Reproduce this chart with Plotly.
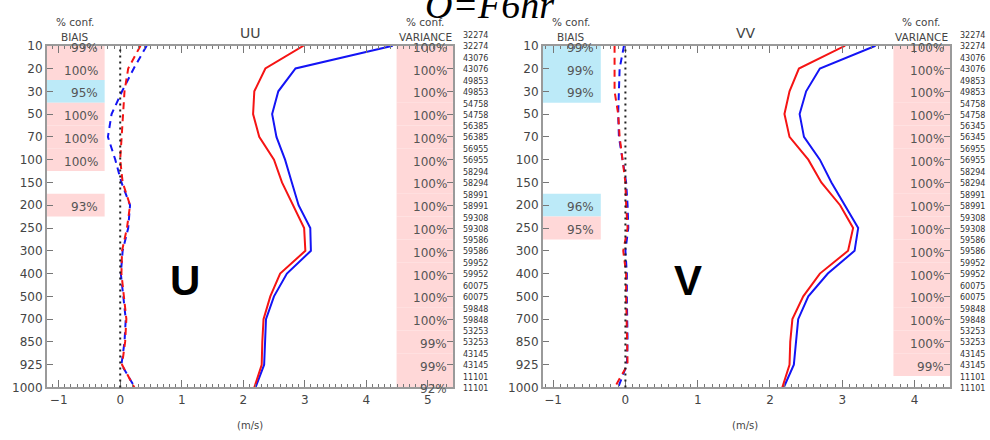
import plotly.graph_objects as go

# ---------------- data ----------------
levels = [10, 20, 30, 50, 70, 100, 150, 200, 250, 300, 400, 500, 700, 850, 925, 1000]
counts_u = [32274, 43076, 49853, 54758, 56385, 56955, 58294, 58991, 59308, 59586,
            59952, 60075, 59848, 53253, 43145, 11101]
counts_v = [32274, 43076, 49853, 54758, 56345, 56955, 58294, 58991, 59308, 59586,
            59952, 60075, 59848, 53253, 43145, 11101]

u_std_red = [2.98, 2.36, 2.18, 2.16, 2.26, 2.50, 2.63, 2.81, 2.99, 3.01, 2.60, 2.44, 2.33, 2.31, 2.30, 2.18]
u_std_blue = [4.43, 2.85, 2.57, 2.47, 2.54, 2.68, 2.79, 2.90, 3.09, 3.10, 2.71, 2.50, 2.37, 2.36, 2.34, 2.20]
u_bias_red = [0.33, 0.13, 0.07, 0.05, 0.03, 0.00, 0.04, 0.16, 0.11, 0.03, 0.02, 0.06, 0.10, 0.08, 0.03, 0.23]
u_bias_blue = [0.43, 0.22, 0.03, -0.14, -0.20, -0.08, 0.02, 0.16, 0.13, 0.04, 0.01, 0.05, 0.09, 0.07, 0.02, 0.24]

v_std_red = [3.04, 2.40, 2.27, 2.20, 2.27, 2.53, 2.71, 2.97, 3.15, 3.08, 2.69, 2.46, 2.31, 2.28, 2.27, 2.17]
v_std_blue = [3.46, 2.69, 2.50, 2.41, 2.47, 2.69, 2.85, 3.04, 3.22, 3.17, 2.80, 2.53, 2.39, 2.36, 2.33, 2.19]
v_bias_red = [-0.15, -0.15, -0.15, -0.10, -0.08, -0.04, 0.00, 0.01, 0.03, -0.03, 0.01, 0.01, 0.02, 0.02, 0.03, -0.15]
v_bias_blue = [-0.02, -0.08, -0.09, -0.10, -0.09, -0.04, 0.01, 0.03, 0.04, 0.00, 0.02, 0.02, 0.03, 0.03, 0.02, -0.10]

# confidence levels (%) and band colour code ('r' pink, 'b' cyan, None = no band)
u_bias_conf = [99, 100, 95, 100, 100, 100, None, 93, None, None, None, None, None, None, None, None]
u_bias_col = ['r', 'r', 'b', 'r', 'r', 'r', None, 'r', None, None, None, None, None, None, None, None]
u_var_conf = [100, 100, 100, 100, 100, 100, 100, 100, 100, 100, 100, 100, 100, 99, 99, 92]
u_var_col = ['r'] * 16

v_bias_conf = [99, 99, 99, None, None, None, None, 96, 95, None, None, None, None, None, None, None]
v_bias_col = ['b', 'b', 'b', None, None, None, None, 'b', 'r', None, None, None, None, None, None, None]
v_var_conf = [100, 100, 100, 100, 100, 100, 100, 100, 100, 100, 100, 100, 100, 100, 99, None]
v_var_col = ['r'] * 15 + [None]

# ---------------- styling ----------------
W, H = 990, 440
PINK = 'rgb(255,216,216)'
CYAN = 'rgb(188,234,248)'
RED = 'rgb(245,20,20)'
BLUE = 'rgb(20,20,245)'
TXT = '#444444'
FONT = 'DejaVu Sans'
band_col = {'r': PINK, 'b': CYAN}

ydom = [1 - 393 / H, 1 - 40 / H]
panels = [
    dict(name='UU', big='U', dom=[47 / W, 453 / W], rng=[-1.19, 5.41],
         std_r=u_std_red, std_b=u_std_blue, bias_r=u_bias_red, bias_b=u_bias_blue,
         bconf=u_bias_conf, bcol=u_bias_col, vconf=u_var_conf, vcol=u_var_col,
         counts=counts_u, bigx=185, tcx=250, bx=75, vx=425, msx=250),
    dict(name='VV', big='V', dom=[543 / W, 950 / W], rng=[-1.14, 4.49],
         std_r=v_std_red, std_b=v_std_blue, bias_r=v_bias_red, bias_b=v_bias_blue,
         bconf=v_bias_conf, bcol=v_bias_col, vconf=v_var_conf, vcol=v_var_col,
         counts=counts_v, bigx=688, tcx=746, bx=571, vx=921, msx=745),
]

fig = go.Figure()
shapes = []
annotations = []
yidx = list(range(len(levels)))
nlev = len(levels)
BAND_R = 0.142
VAR_L = 0.861

for k, p in enumerate(panels):
    xa = 'x' if k == 0 else 'x2'
    ya = 'y' if k == 0 else 'y2'
    xd = xa + ' domain'
    yd = ya + ' domain'

    # bands
    for i in range(nlev):
        y0 = max(i - 0.5, 0)
        y1 = min(i + 0.5, nlev - 1)
        if p['bcol'][i]:
            shapes.append(dict(type='rect', xref=xd, yref=ya, x0=0, x1=BAND_R, y0=y0, y1=y1,
                               fillcolor=band_col[p['bcol'][i]], line=dict(width=0), layer='below'))
            annotations.append(dict(xref=xd, yref=ya, x=BAND_R, y=i, xanchor='right', yanchor='middle',
                                    xshift=-5, yshift=-2, showarrow=False, text=f"{p['bconf'][i]}%",
                                    font=dict(family=FONT, size=12, color='#555555')))
        if p['vcol'][i]:
            shapes.append(dict(type='rect', xref=xd, yref=ya, x0=VAR_L, x1=1, y0=y0, y1=y1,
                               fillcolor=band_col[p['vcol'][i]], line=dict(width=0), layer='below'))
            annotations.append(dict(xref=xd, yref=ya, x=1, y=i, xanchor='right', yanchor='middle',
                                    xshift=-4, yshift=-2, showarrow=False, text=f"{p['vconf'][i]}%",
                                    font=dict(family=FONT, size=12, color='#555555')))
        # counts (two per level)
        for ys in (10, -1):
            annotations.append(dict(xref=xd, yref=ya, x=1, y=i, xanchor='left', yanchor='middle',
                                    xshift=8, yshift=ys, showarrow=False, text=str(p['counts'][i]),
                                    font=dict(family=FONT, size=8, color='#333333')))

    # zero dotted line
    shapes.append(dict(type='line', xref=xa, yref=yd, x0=0, x1=0, y0=0, y1=1,
                       line=dict(color='#222222', width=2, dash='2px,4px'), layer='above'))

    # traces
    fig.add_trace(go.Scatter(x=p['std_b'], y=yidx, mode='lines', xaxis=xa, yaxis=ya,
                             line=dict(color=BLUE, width=2), showlegend=False))
    fig.add_trace(go.Scatter(x=p['std_r'], y=yidx, mode='lines', xaxis=xa, yaxis=ya,
                             line=dict(color=RED, width=2), showlegend=False))
    fig.add_trace(go.Scatter(x=p['bias_b'], y=yidx, mode='lines', xaxis=xa, yaxis=ya,
                             line=dict(color=BLUE, width=2, dash='7px,5px'), showlegend=False))
    fig.add_trace(go.Scatter(x=p['bias_r'], y=yidx, mode='lines', xaxis=xa, yaxis=ya,
                             line=dict(color=RED, width=2, dash='7px,5px'), showlegend=False))

    # headers
    def pa(px, py, text, size, **kw):
        d = dict(xref='paper', yref='paper', x=px / W, y=1 - py / H, xanchor='center', yanchor='middle',
                 showarrow=False, text=text, font=dict(family=FONT, size=size, color=TXT))
        d.update(kw)
        return d
    annotations.append(pa(p['tcx'], 27, p['name'], 14))
    annotations.append(pa(p['bx'], 16, '% conf.', 10.5))
    annotations.append(pa(p['bx'], 31, 'BIAIS', 10.5))
    annotations.append(pa(p['vx'], 16, '% conf.', 10.5))
    annotations.append(pa(p['vx'], 31, 'VARIANCE', 10.5))
    annotations.append(pa(p['msx'], 432, '(m/s)', 10))
    big = pa(p['bigx'], 283, '<b>' + p['big'] + '</b>', 42)
    big['font'] = dict(family='Liberation Sans', size=42, color='black')
    annotations.append(big)

    axis_common = dict(showgrid=False, zeroline=False, showline=True, linecolor='#9a9a9a', linewidth=2,
                       mirror='ticks', ticks='inside', tickcolor='#777777', tickwidth=1,
                       tickfont=dict(family=FONT, size=12, color=TXT))
    xkey = 'xaxis' if k == 0 else 'xaxis2'
    ykey = 'yaxis' if k == 0 else 'yaxis2'
    fig.update_layout(**{
        xkey: dict(domain=p['dom'], range=p['rng'], anchor=ya, tick0=0, dtick=1, ticklen=7,
                   minor=dict(dtick=0.1, tick0=0, ticks='inside', ticklen=3, tickcolor='#777777'),
                   **axis_common),
        ykey: dict(domain=ydom, range=[nlev - 1, 0], anchor=xa, tickmode='array', tickvals=yidx,
                   ticktext=[str(v) for v in levels], ticklen=6, **axis_common),
    })

# title (its upper half is cut by the top of the image, as in the reference)
annotations.append(dict(xref='paper', yref='paper', x=489 / W, y=1 - 22 / H, xanchor='center',
                        yanchor='bottom', showarrow=False, text='<i>O=F6hr</i>',
                        font=dict(family='Liberation Serif', size=38, color='black')))

fig.update_layout(width=W, height=H, margin=dict(l=0, r=0, t=0, b=0),
                  paper_bgcolor='white', plot_bgcolor='white',
                  shapes=shapes, annotations=annotations, showlegend=False)

fig.write_html('out.html')
